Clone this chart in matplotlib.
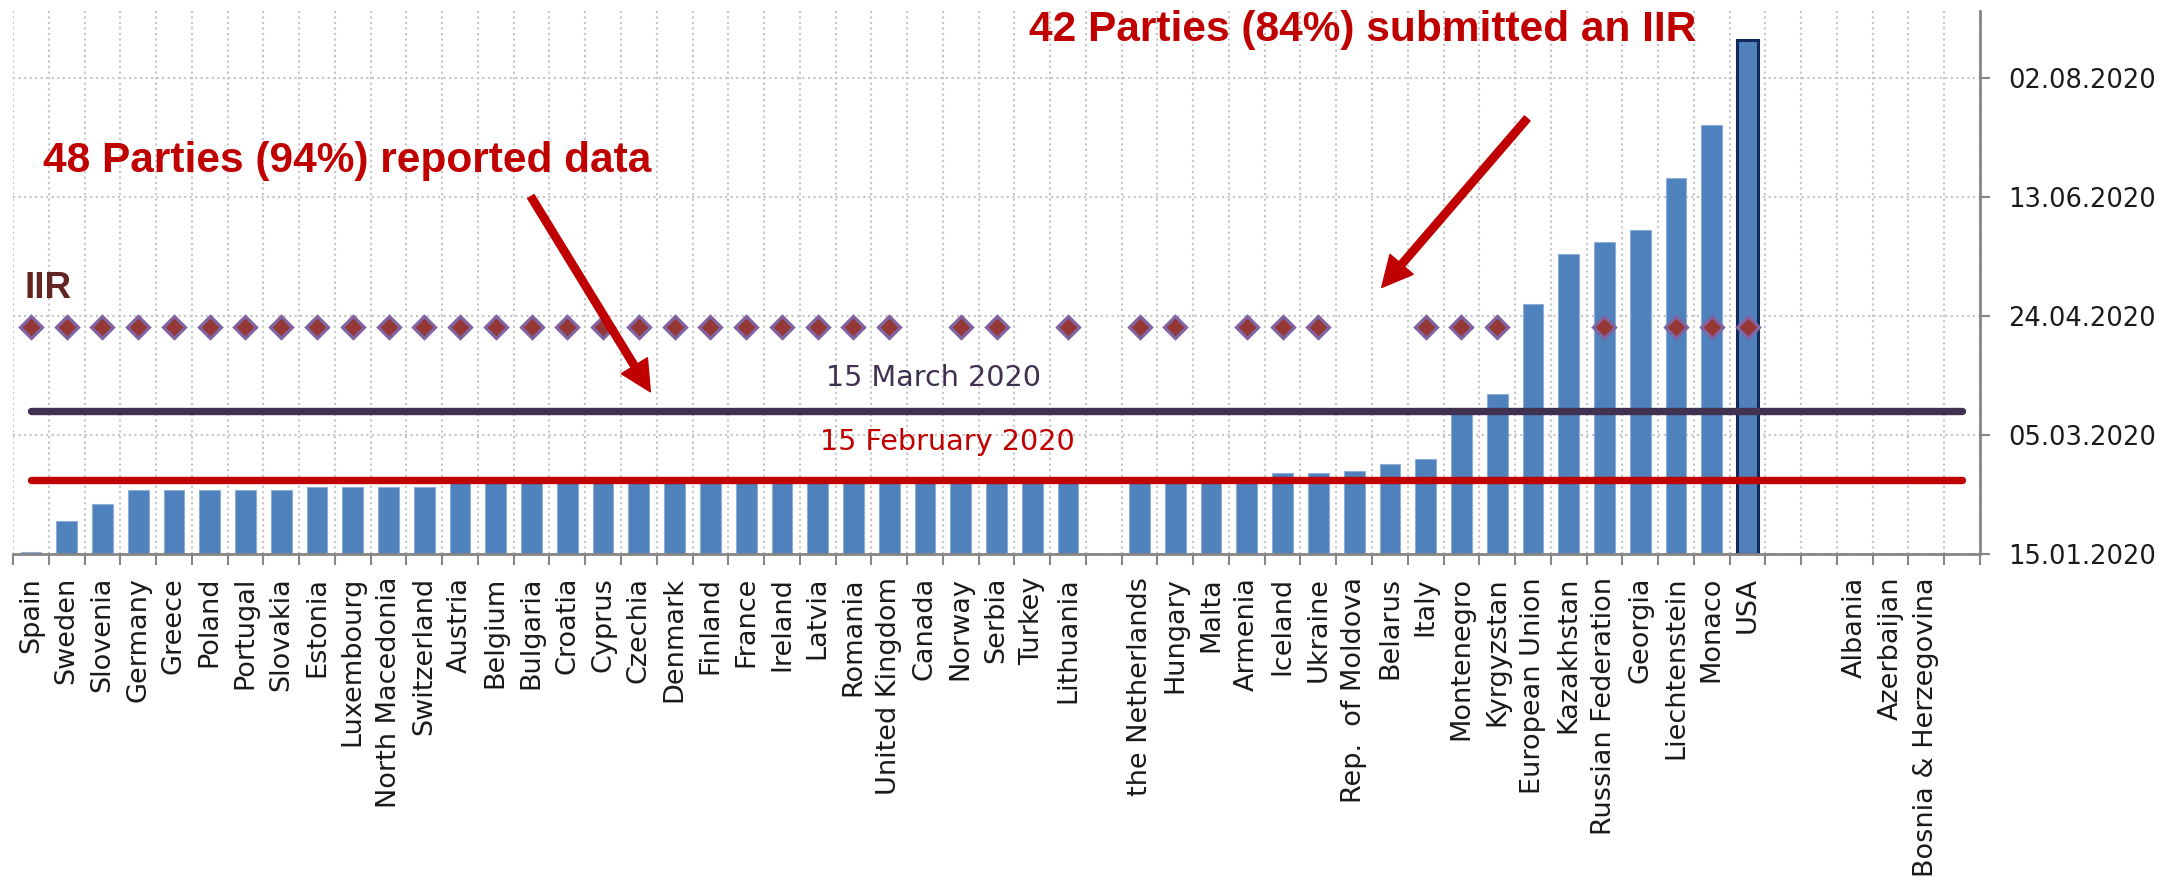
import numpy as np
import pandas as pd
import matplotlib
matplotlib.use("Agg")
import matplotlib.pyplot as plt

##
# Data: one slot per party, '' = empty slot
##
parties = [
    "Spain", "Sweden", "Slovenia", "Germany", "Greece", "Poland", "Portugal",
    "Slovakia", "Estonia", "Luxembourg", "North Macedonia", "Switzerland",
    "Austria", "Belgium", "Bulgaria", "Croatia", "Cyprus", "Czechia", "Denmark",
    "Finland", "France", "Ireland", "Latvia", "Romania", "United Kingdom",
    "Canada", "Norway", "Serbia", "Turkey", "Lithuania", "",
    "the Netherlands", "Hungary", "Malta", "Armenia", "Iceland", "Ukraine",
    "Rep.  of Moldova", "Belarus", "Italy", "Montenegro", "Kyrgyzstan",
    "European Union", "Kazakhstan", "Russian Federation", "Georgia",
    "Liechtenstein", "Monaco", "USA", "", "",
    "Albania", "Azerbaijan", "Bosnia & Herzegovina", "",
]

# date of data submission (None = no bar)
submitted = [
    "16.01.2020", "29.01.2020", "05.02.2020", "11.02.2020", "11.02.2020",
    "11.02.2020", "11.02.2020", "11.02.2020", "12.02.2020", "12.02.2020",
    "12.02.2020", "12.02.2020",
    "15.02.2020", "15.02.2020", "15.02.2020", "15.02.2020", "15.02.2020",
    "15.02.2020", "15.02.2020", "15.02.2020", "15.02.2020", "15.02.2020",
    "15.02.2020", "15.02.2020", "15.02.2020", "15.02.2020", "15.02.2020",
    "15.02.2020", "15.02.2020", "15.02.2020", None,
    "15.02.2020", "15.02.2020", "15.02.2020", "15.02.2020", "18.02.2020",
    "18.02.2020", "19.02.2020", "22.02.2020", "24.02.2020", "15.03.2020",
    "22.03.2020", "29.04.2020", "20.05.2020", "25.05.2020", "30.05.2020",
    "21.06.2020", "13.07.2020", "18.08.2020", None, None,
    None, None, None, None,
]

# 1 = IIR submitted
iir = [
    1, 1, 1, 1, 1, 1, 1, 1, 1, 1, 1, 1,
    1, 1, 1, 1, 1, 1, 1, 1, 1, 1, 1, 1, 1,
    0, 1, 1, 0, 1, 0,
    1, 1, 0, 1, 1, 1, 0, 0, 1, 1, 1,
    0, 0, 1, 0, 1, 1, 1, 0, 0,
    0, 0, 0, 0,
]

axis_start = "15.01.2020"
axis_end = "30.08.2020"
axis_ticks = ["15.01.2020", "05.03.2020", "24.04.2020", "13.06.2020", "02.08.2020"]
deadline_data = "15.02.2020"
deadline_iir = "15.03.2020"
iir_row = "19.04.2020"


def to_days(vals):
    d = pd.to_datetime(pd.Series(vals), format="%d.%m.%Y")
    return ((d - pd.Timestamp(2020, 1, 15)).dt.days).to_numpy(dtype=float)


x = np.arange(len(parties))
days = to_days(submitted)
iir = np.array(iir)
tick_days = to_days(axis_ticks)
ymin, ymax = to_days([axis_start, axis_end])
feb_day = to_days([deadline_data])[0]
mar_day = to_days([deadline_iir])[0]
iir_day = to_days([iir_row])[0] + 0.5

##
# Figure
##
fig = plt.figure(figsize=(21.72, 8.83), dpi=100)
ax = fig.add_axes([13 / 2172, 1 - 554 / 883, (1980 - 13) / 2172, (554 - 11) / 883])

bars = ax.bar(x, days, width=0.58, color="#4F81BD", edgecolor="#8FAED6",
              linewidth=0.8, zorder=2)
usa = parties.index("USA")
bars[usa].set_edgecolor("#10295A")
bars[usa].set_linewidth(2.2)

# deadline lines
ax.plot([x[0], x[-1]], [feb_day, feb_day], color="#C00000", lw=5.3,
        solid_capstyle="round", zorder=4)
ax.plot([x[0], x[-1]], [mar_day, mar_day], color="#403151", lw=5.3,
        solid_capstyle="round", zorder=4)

# IIR markers
ax.plot(x[iir == 1], np.full((iir == 1).sum(), iir_day), "D", ms=11.5,
        mfc="#953735", mec="#8064A2", mew=2.3, ls="none", zorder=5)

# axes
ax.set_xlim(-0.5, len(parties) - 0.5)
ax.set_ylim(ymin, ymax)
ax.set_xticks(x)
ax.set_xticklabels(parties, rotation=90, fontsize=19.5, color="#1a1a1a")
ax.set_xticks(np.arange(-0.5, len(parties)), minor=True)
ax.tick_params(axis="x", which="major", length=0, pad=16.5)
ax.tick_params(axis="x", which="minor", length=8, width=1.5, color="#868686")

ax.yaxis.tick_right()
ax.set_yticks(tick_days)
ax.set_yticklabels(axis_ticks, fontsize=18.5, color="#1a1a1a")
ax.tick_params(axis="y", length=7, width=1.5, color="#868686", pad=13)

ax.grid(which="minor", axis="x", color="#C4C4C4", ls=":", lw=1.5)
ax.grid(which="major", axis="y", color="#C4C4C4", ls=":", lw=1.5)
ax.set_axisbelow(True)

for s in ["left", "top"]:
    ax.spines[s].set_visible(False)
for s in ["bottom", "right"]:
    ax.spines[s].set_color("#868686")
    ax.spines[s].set_linewidth(2)

# annotations
bold_font = ["Liberation Sans", "DejaVu Sans"]
ax.text(0.34, 160.2, "48 Parties (94%) reported data", fontsize=30.5,
        fontweight="bold", color="#C00000", family=bold_font,
        ha="left", va="baseline", zorder=6)
ax.text(27.9, 215.3, "42 Parties (84%) submitted an IIR", fontsize=30.5,
        fontweight="bold", color="#C00000", family=bold_font,
        ha="left", va="baseline", zorder=6)
ax.text(-0.17, 107.7, "IIR", fontsize=26.5, fontweight="bold",
        color="#632523", family=bold_font, ha="left", va="baseline")
ax.text(25.24, 70.4, "15 March 2020", fontsize=20.6, color="#403151",
        ha="center", va="baseline")
ax.text(25.63, 43.7, "15 February 2020", fontsize=20.6, color="#C00000",
        ha="center", va="baseline")

arrow = dict(arrowstyle="simple,head_length=1.1,head_width=1.1,tail_width=0.27",
             mutation_scale=20, color="#C00000", shrinkA=0, shrinkB=0)
ax.annotate("", xy=(17.32, 68.1), xytext=(13.98, 150.1), arrowprops=arrow,
            zorder=6)
ax.annotate("", xy=(37.77, 111.9), xytext=(41.84, 182.9), arrowprops=arrow,
            zorder=6)

fig.savefig("out.png", dpi=100)
